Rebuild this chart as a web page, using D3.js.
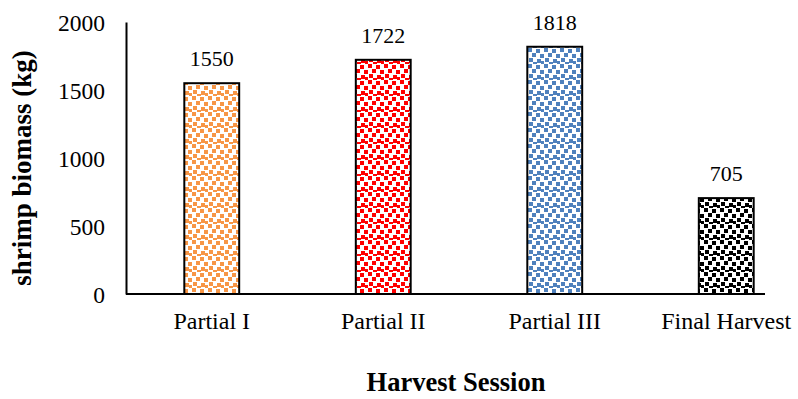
<!DOCTYPE html>
<html>
<head>
<meta charset="utf-8">
<script src="https://cdn.jsdelivr.net/npm/d3@7"></script>
<style>
  html, body { margin: 0; padding: 0; background: #fff; }
  svg { display: block; }
  text { font-family: "Liberation Serif", "Times New Roman", serif; fill: #000; }
</style>
</head>
<body>
<svg id="chart" width="798" height="399"></svg>
<script>
// Harvest data
const sessions = ["Partial I", "Partial II", "Partial III", "Final Harvest"];
const biomass = [1550, 1722, 1818, 705];
const barColors = ["#f79646", "#ff0000", "#4f81bd", "#000000"];
const yTicks = [0, 500, 1000, 1500, 2000];

const svg = d3.select("#chart");
const margin = { left: 126, top: 22, bottom: 105 };
const height = 399;

const y = d3.scaleLinear().domain([0, 2000]).range([height - margin.bottom, margin.top]);
const x = d3.scaleBand().domain(sessions).range([126, 812]).paddingInner(0.68).paddingOuter(0.34);

// confetti fill patterns, one per bar colour
const defs = svg.append("defs");
const squares = [[0,0],[8,1],[4,5],[12,6],[1,10],[9,11],[13,13],[5,14]];
barColors.forEach((c, i) => {
  const p = defs.append("pattern")
    .attr("id", "confetti" + i)
    .attr("patternUnits", "userSpaceOnUse")
    .attr("width", 16).attr("height", 16);
  p.append("rect").attr("width", 16).attr("height", 16).attr("fill", "#fff");
  p.selectAll("rect.dot").data(squares).join("rect")
    .attr("class", "dot")
    .attr("x", d => d[0]).attr("y", d => d[1])
    .attr("width", 4).attr("height", 4)
    .attr("fill", c);
});

// bars
svg.append("g").selectAll("rect").data(sessions).join("rect")
  .attr("x", d => x(d))
  .attr("y", (d, i) => y(biomass[i]))
  .attr("width", x.bandwidth())
  .attr("height", (d, i) => y(0) - y(biomass[i]))
  .attr("fill", (d, i) => `url(#confetti${i})`)
  .attr("stroke", "#000")
  .attr("stroke-width", 2);

// value labels
svg.append("g").selectAll("text").data(sessions).join("text")
  .attr("x", d => x(d) + x.bandwidth() / 2)
  .attr("y", (d, i) => y(biomass[i]) - 17)
  .attr("text-anchor", "middle")
  .attr("font-size", 22)
  .text((d, i) => biomass[i]);

// y axis
const yAxis = svg.append("g")
  .attr("transform", `translate(${margin.left},0)`)
  .call(d3.axisLeft(y).tickValues(yTicks).tickSize(0).tickPadding(21).tickFormat(d3.format("d")));
yAxis.select(".domain").attr("stroke", "#000").attr("stroke-width", 2);
yAxis.selectAll("text").attr("font-size", 23.5).attr("font-family", "Liberation Serif").attr("fill", "#000").attr("dy", "0.35em");

// x axis
const xAxis = svg.append("g")
  .attr("transform", `translate(0,${y(0)})`)
  .call(d3.axisBottom(x).tickSize(0).tickPadding(18));
xAxis.select(".domain").remove();
xAxis.append("line")
  .attr("x1", margin.left).attr("x2", 765)
  .attr("y1", 0).attr("y2", 0)
  .attr("stroke", "#000").attr("stroke-width", 2);
xAxis.selectAll("text").attr("font-size", 24).attr("font-family", "Liberation Serif").attr("fill", "#000");

// axis titles
svg.append("text")
  .attr("transform", `translate(31,${(y(0) + y(2000)) / 2 + 10}) rotate(-90)`)
  .attr("text-anchor", "middle")
  .attr("font-size", 27)
  .attr("font-weight", "bold")
  .text("shrimp biomass (kg)");

svg.append("text")
  .attr("x", 456).attr("y", 391)
  .attr("text-anchor", "middle")
  .attr("font-size", 26.5)
  .attr("font-weight", "bold")
  .text("Harvest Session");
</script>
</body>
</html>
